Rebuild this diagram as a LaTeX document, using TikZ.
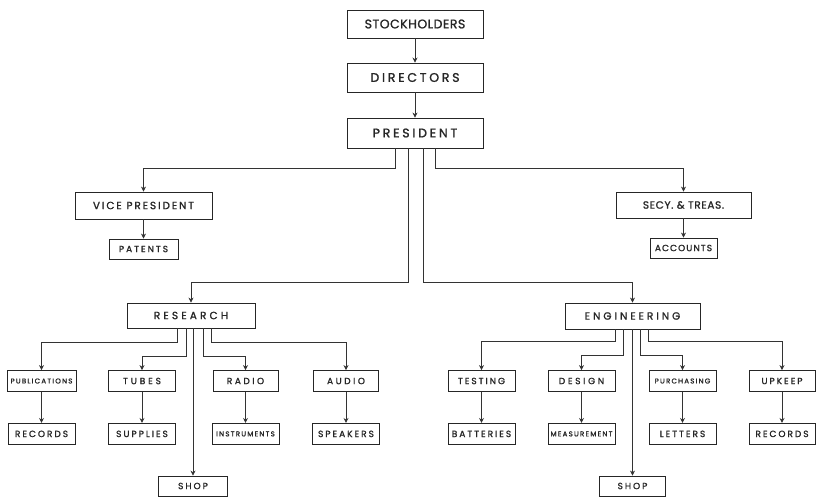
\documentclass[tikz,border=0pt]{standalone}
\usepackage{fontspec}
\newfontfamily\chartfont{Poppins}[FakeBold=1.3]
\usetikzlibrary{arrows.meta,positioning,calc}

\tikzset{
  unit/.style={draw=black!85, line width=0.9pt, inner sep=0pt, fill=white, text=black!85},
  spread/.style={execute at begin node={\addfontfeature{LetterSpace=#1}}},
  topbox/.style={unit, minimum width=136pt, minimum height=28pt, font=\chartfont\fontsize{12.5}{14}\selectfont, spread=4},
  deptbox/.style={unit, minimum width=136pt, minimum height=26pt, font=\chartfont\fontsize{10.5}{12}\selectfont, spread=18},
  leafbox/.style={unit, minimum width=67pt, minimum height=21pt, font=\chartfont\fontsize{9}{10}\selectfont, spread=22},
  narrow/.style={font=\chartfont\fontsize{7}{8}\selectfont, spread=18},
  link/.style={-{Stealth[length=5pt,width=5pt]}, draw=black!80, line width=0.7pt}
}

\begin{document}
\begin{tikzpicture}[x=1pt, y=-1pt]
\useasboundingbox (0,0) rectangle (817,496);

% top of the chart
\node[topbox] (stock) at (415,24) {STOCKHOLDERS};
\node[topbox, spread=22, minimum height=29pt] (dir) at (415,77.5) {DIRECTORS};
\node[topbox, spread=22, minimum height=30pt] (pres) at (415,133) {PRESIDENT};

% officers
\node[deptbox, minimum width=137pt, minimum height=27pt] (vp) at (143.5,205.5) {VICE PRESIDENT};
\node[deptbox, spread=6, minimum width=135pt] (secy) at (683.5,205) {SECY. \& TREAS.};
\node[leafbox, minimum width=69pt, minimum height=20pt] (patents) at (143.5,249) {PATENTS};
\node[leafbox, spread=12, minimum height=20pt] (accounts) at (683.5,248) {ACCOUNTS};

% departments
\node[deptbox, spread=30, minimum width=128pt, minimum height=25pt] (research) at (191,315.5) {RESEARCH};
\node[deptbox, spread=28, minimum width=135pt] (engin) at (632.5,316) {ENGINEERING};

% research groups
\node[leafbox, narrow, minimum width=69pt] (pub) at (41.5,381) {PUBLICATIONS};
\node[leafbox, spread=32] (tubes) at (142,381) {TUBES};
\node[leafbox, spread=28, minimum width=65pt] (radio) at (245.5,381) {RADIO};
\node[leafbox, spread=28, minimum width=65pt] (audio) at (346,381) {AUDIO};
\node[leafbox, below=31pt of pub] (precords) {RECORDS};
\node[leafbox, below=31pt of tubes] (supplies) {SUPPLIES};
\node[leafbox, narrow, below=31pt of radio] (instr) {INSTRUMENTS};
\node[leafbox, below=31pt of audio] (speakers) {SPEAKERS};
\node[leafbox, minimum width=69pt, minimum height=20pt] (rshop) at (193,486) {SHOP};

% engineering groups
\node[leafbox] (testing) at (481.5,381) {TESTING};
\node[leafbox, spread=30] (design) at (581.5,381) {DESIGN};
\node[leafbox, narrow] (purch) at (682.5,381) {PURCHASING};
\node[leafbox, minimum width=66pt] (upkeep) at (782,381) {UPKEEP};
\node[leafbox, below=31pt of testing] (batteries) {BATTERIES};
\node[leafbox, narrow, below=31pt of design] (measure) {MEASUREMENT};
\node[leafbox, below=31pt of purch] (letters) {LETTERS};
\node[leafbox, minimum width=66pt, below=31pt of upkeep] (erecords) {RECORDS};
\node[leafbox, minimum width=66pt, minimum height=20pt] (eshop) at (632.5,486) {SHOP};

% lines of authority
\draw[link] (stock) -- (dir);
\draw[link] (dir) -- (pres);
\draw[link] ([xshift=-20pt]pres.south) -- ++(0,20) -| (vp.north);
\draw[link] ([xshift=-7pt]pres.south) -- ++(0,134) -| (research.north);
\draw[link] ([xshift=8pt]pres.south) -- ++(0,134) -| (engin.north);
\draw[link] ([xshift=20pt]pres.south) -- ++(0,20) -| (secy.north);
\draw[link] (vp) -- (patents);
\draw[link] (secy) -- (accounts);

\draw[link] ([xshift=-14pt]research.south) -- ++(0,14) -| (pub.north);
\draw[link] ([xshift=-5pt]research.south) -- ++(0,28) -| (tubes.north);
\draw[link] ([xshift=2pt]research.south) -- (rshop.north);
\draw[link] ([xshift=12pt]research.south) -- ++(0,28) -| (radio.north);
\draw[link] ([xshift=20pt]research.south) -- ++(0,14) -| (audio.north);

\draw[link] ([xshift=-17pt]engin.south) -- ++(0,12) -| (testing.north);
\draw[link] ([xshift=-9pt]engin.south) -- ++(0,26) -| (design.north);
\draw[link] (engin.south) -- (eshop.north);
\draw[link] ([xshift=8pt]engin.south) -- ++(0,26) -| (purch.north);
\draw[link] ([xshift=16pt]engin.south) -- ++(0,12) -| (upkeep.north);

\draw[link] (pub) -- (precords);
\draw[link] (tubes) -- (supplies);
\draw[link] (radio) -- (instr);
\draw[link] (audio) -- (speakers);
\draw[link] (testing) -- (batteries);
\draw[link] (design) -- (measure);
\draw[link] (purch) -- (letters);
\draw[link] (upkeep) -- (erecords);
\end{tikzpicture}
\end{document}
